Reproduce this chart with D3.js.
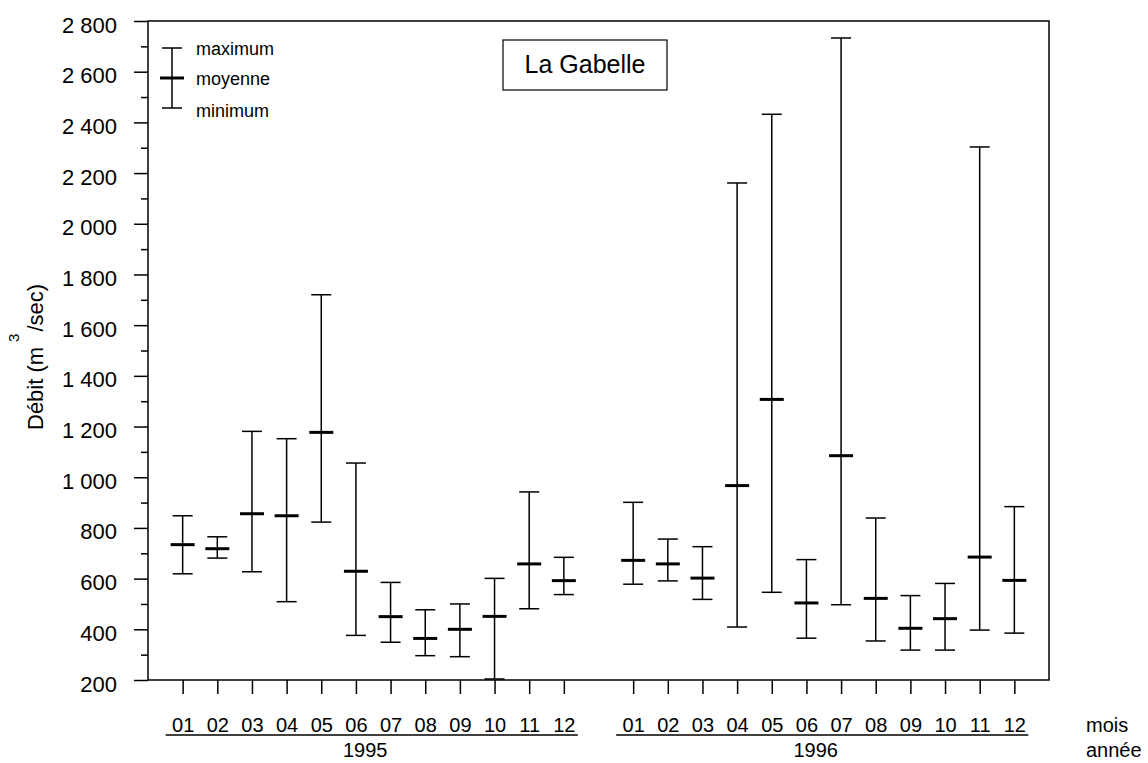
<!DOCTYPE html>
<html>
<head>
<meta charset="utf-8">
<script src="https://cdn.jsdelivr.net/npm/d3@7"></script>
<style>
  body { margin: 0; background: #fff; }
  svg { font-family: "Liberation Sans", Arial, sans-serif; }
  .axis path.domain { display: none; }
  .axis line { stroke: #000; stroke-width: 1.5; }
  .axis text { fill: #000; }
</style>
</head>
<body>
<svg id="chart" width="1148" height="763"></svg>
<script>
const months = ["01", "02", "03", "04", "05", "06", "07", "08", "09", "10", "11", "12"];
const years = ["1995", "1996"];
const yTicks = [200, 400, 600, 800, 1000, 1200, 1400, 1600, 1800, 2000, 2200, 2400, 2600, 2800];

// débit mensuel (m3/sec)
const max1995  = [848, 765, 1181, 1152, 1720, 1056, 585, 477, 500, 601, 942, 684];
const mean1995 = [734, 718, 856, 848, 1177, 629, 450, 364, 400, 451, 658, 592];
const min1995  = [619, 681, 627, 509, 823, 376, 349, 296, 292, 204, 481, 537];
const max1996  = [901, 756, 726, 2161, 2432, 675, 2733, 839, 533, 581, 2303, 884];
const mean1996 = [672, 658, 602, 967, 1307, 504, 1085, 522, 404, 442, 685, 593];
const min1996  = [578, 591, 518, 409, 546, 365, 497, 354, 318, 318, 397, 385];

const stats = {
  "1995": { max: max1995, mean: mean1995, min: min1995 },
  "1996": { max: max1996, mean: mean1996, min: min1996 }
};

const rows = years.flatMap(yr => months.map((m, i) => ({
  key: yr + "-" + m, year: yr, month: m,
  max: stats[yr].max[i], mean: stats[yr].mean[i], min: stats[yr].min[i]
})));

const svg = d3.select("#chart");
const plotL = 148, plotR = 1049, plotT = 21, plotB = 680;

const keys = [...months.map(m => "1995-" + m), "gap", ...months.map(m => "1996-" + m)];
const x = d3.scalePoint().domain(keys).range([plotL, plotR]).padding(1);
const y = d3.scaleLinear().domain([200, 2800]).range([plotB, plotT]);

const fr = d3.formatLocale({ decimal: ",", thousands: " ", grouping: [3], currency: ["", ""] });
const fmt = fr.format(",d");

// frame
svg.append("rect")
  .attr("x", plotL).attr("y", plotT)
  .attr("width", plotR - plotL).attr("height", plotB - plotT)
  .attr("fill", "none").attr("stroke", "#000").attr("stroke-width", 1.5);

// y axis
svg.append("g").attr("class", "axis")
  .attr("transform", `translate(${plotL},0)`)
  .call(d3.axisLeft(y).tickValues(yTicks).tickSize(14).tickPadding(17).tickFormat(fmt))
  .selectAll("text").attr("font-size", 22).attr("dy", "0.5em");

svg.append("g").attr("class", "axis")
  .attr("transform", `translate(${plotL},0)`)
  .call(d3.axisLeft(y).tickValues(d3.range(300, 2800, 200)).tickSize(7).tickFormat(""));

// x axis
svg.append("g").attr("class", "axis")
  .attr("transform", `translate(0,${plotB})`)
  .call(d3.axisBottom(x).tickValues(keys.filter(k => k !== "gap"))
    .tickSize(14).tickPadding(24).tickFormat(k => k.slice(5)))
  .selectAll("text").attr("font-size", 20);

// year groups
years.forEach(yr => {
  const x0 = x(yr + "-01"), x1 = x(yr + "-12");
  svg.append("line")
    .attr("x1", x0 - 17).attr("x2", x1 + 14)
    .attr("y1", 735).attr("y2", 735)
    .attr("stroke", "#000").attr("stroke-width", 1.5);
  svg.append("text")
    .attr("x", (x0 + x1) / 2 - 8).attr("y", 757)
    .attr("text-anchor", "middle").attr("font-size", 20)
    .text(yr);
});

svg.append("text").attr("x", 1086).attr("y", 732).attr("font-size", 20).text("mois");
svg.append("text").attr("x", 1086).attr("y", 757).attr("font-size", 20).text("année");

// y title
const yt = svg.append("text")
  .attr("transform", "translate(43,430) rotate(-90)")
  .attr("font-size", 22);
yt.append("tspan").text("Débit (m");
yt.append("tspan").attr("dx", 5).attr("dy", -24).attr("font-size", 15).text("3");
yt.append("tspan").attr("dx", 2).attr("dy", 24).text("/sec)");

// error bars
const bars = svg.append("g").selectAll("g")
  .data(rows)
  .join("g")
  .attr("transform", d => `translate(${x(d.key)},0)`);

bars.append("line")
  .attr("y1", d => y(d.max)).attr("y2", d => y(d.min))
  .attr("stroke", "#000").attr("stroke-width", 1.5);
bars.append("line")
  .attr("x1", -10).attr("x2", 10)
  .attr("y1", d => y(d.max)).attr("y2", d => y(d.max))
  .attr("stroke", "#000").attr("stroke-width", 1.5);
bars.append("line")
  .attr("x1", -10).attr("x2", 10)
  .attr("y1", d => y(d.min)).attr("y2", d => y(d.min))
  .attr("stroke", "#000").attr("stroke-width", 1.5);
bars.append("line")
  .attr("x1", -12).attr("x2", 12)
  .attr("y1", d => y(d.mean)).attr("y2", d => y(d.mean))
  .attr("stroke", "#000").attr("stroke-width", 3);

// legend
const lg = svg.append("g").attr("transform", "translate(172,0)");
lg.append("line").attr("y1", 48).attr("y2", 108).attr("stroke", "#000").attr("stroke-width", 1.5);
lg.append("line").attr("x1", -10).attr("x2", 10).attr("y1", 48).attr("y2", 48).attr("stroke", "#000").attr("stroke-width", 1.5);
lg.append("line").attr("x1", -10).attr("x2", 10).attr("y1", 108).attr("y2", 108).attr("stroke", "#000").attr("stroke-width", 1.5);
lg.append("line").attr("x1", -12).attr("x2", 12).attr("y1", 78).attr("y2", 78).attr("stroke", "#000").attr("stroke-width", 3);
[["maximum", 55], ["moyenne", 85], ["minimum", 117]].forEach(([t, yy]) => {
  lg.append("text").attr("x", 24).attr("y", yy).attr("font-size", 18).text(t);
});

// station label
svg.append("rect")
  .attr("x", 503).attr("y", 40).attr("width", 164).attr("height", 50)
  .attr("fill", "#fff").attr("stroke", "#000").attr("stroke-width", 1.2);
svg.append("text")
  .attr("x", 585).attr("y", 73).attr("text-anchor", "middle")
  .attr("font-size", 25).text("La Gabelle");
</script>
</body>
</html>
